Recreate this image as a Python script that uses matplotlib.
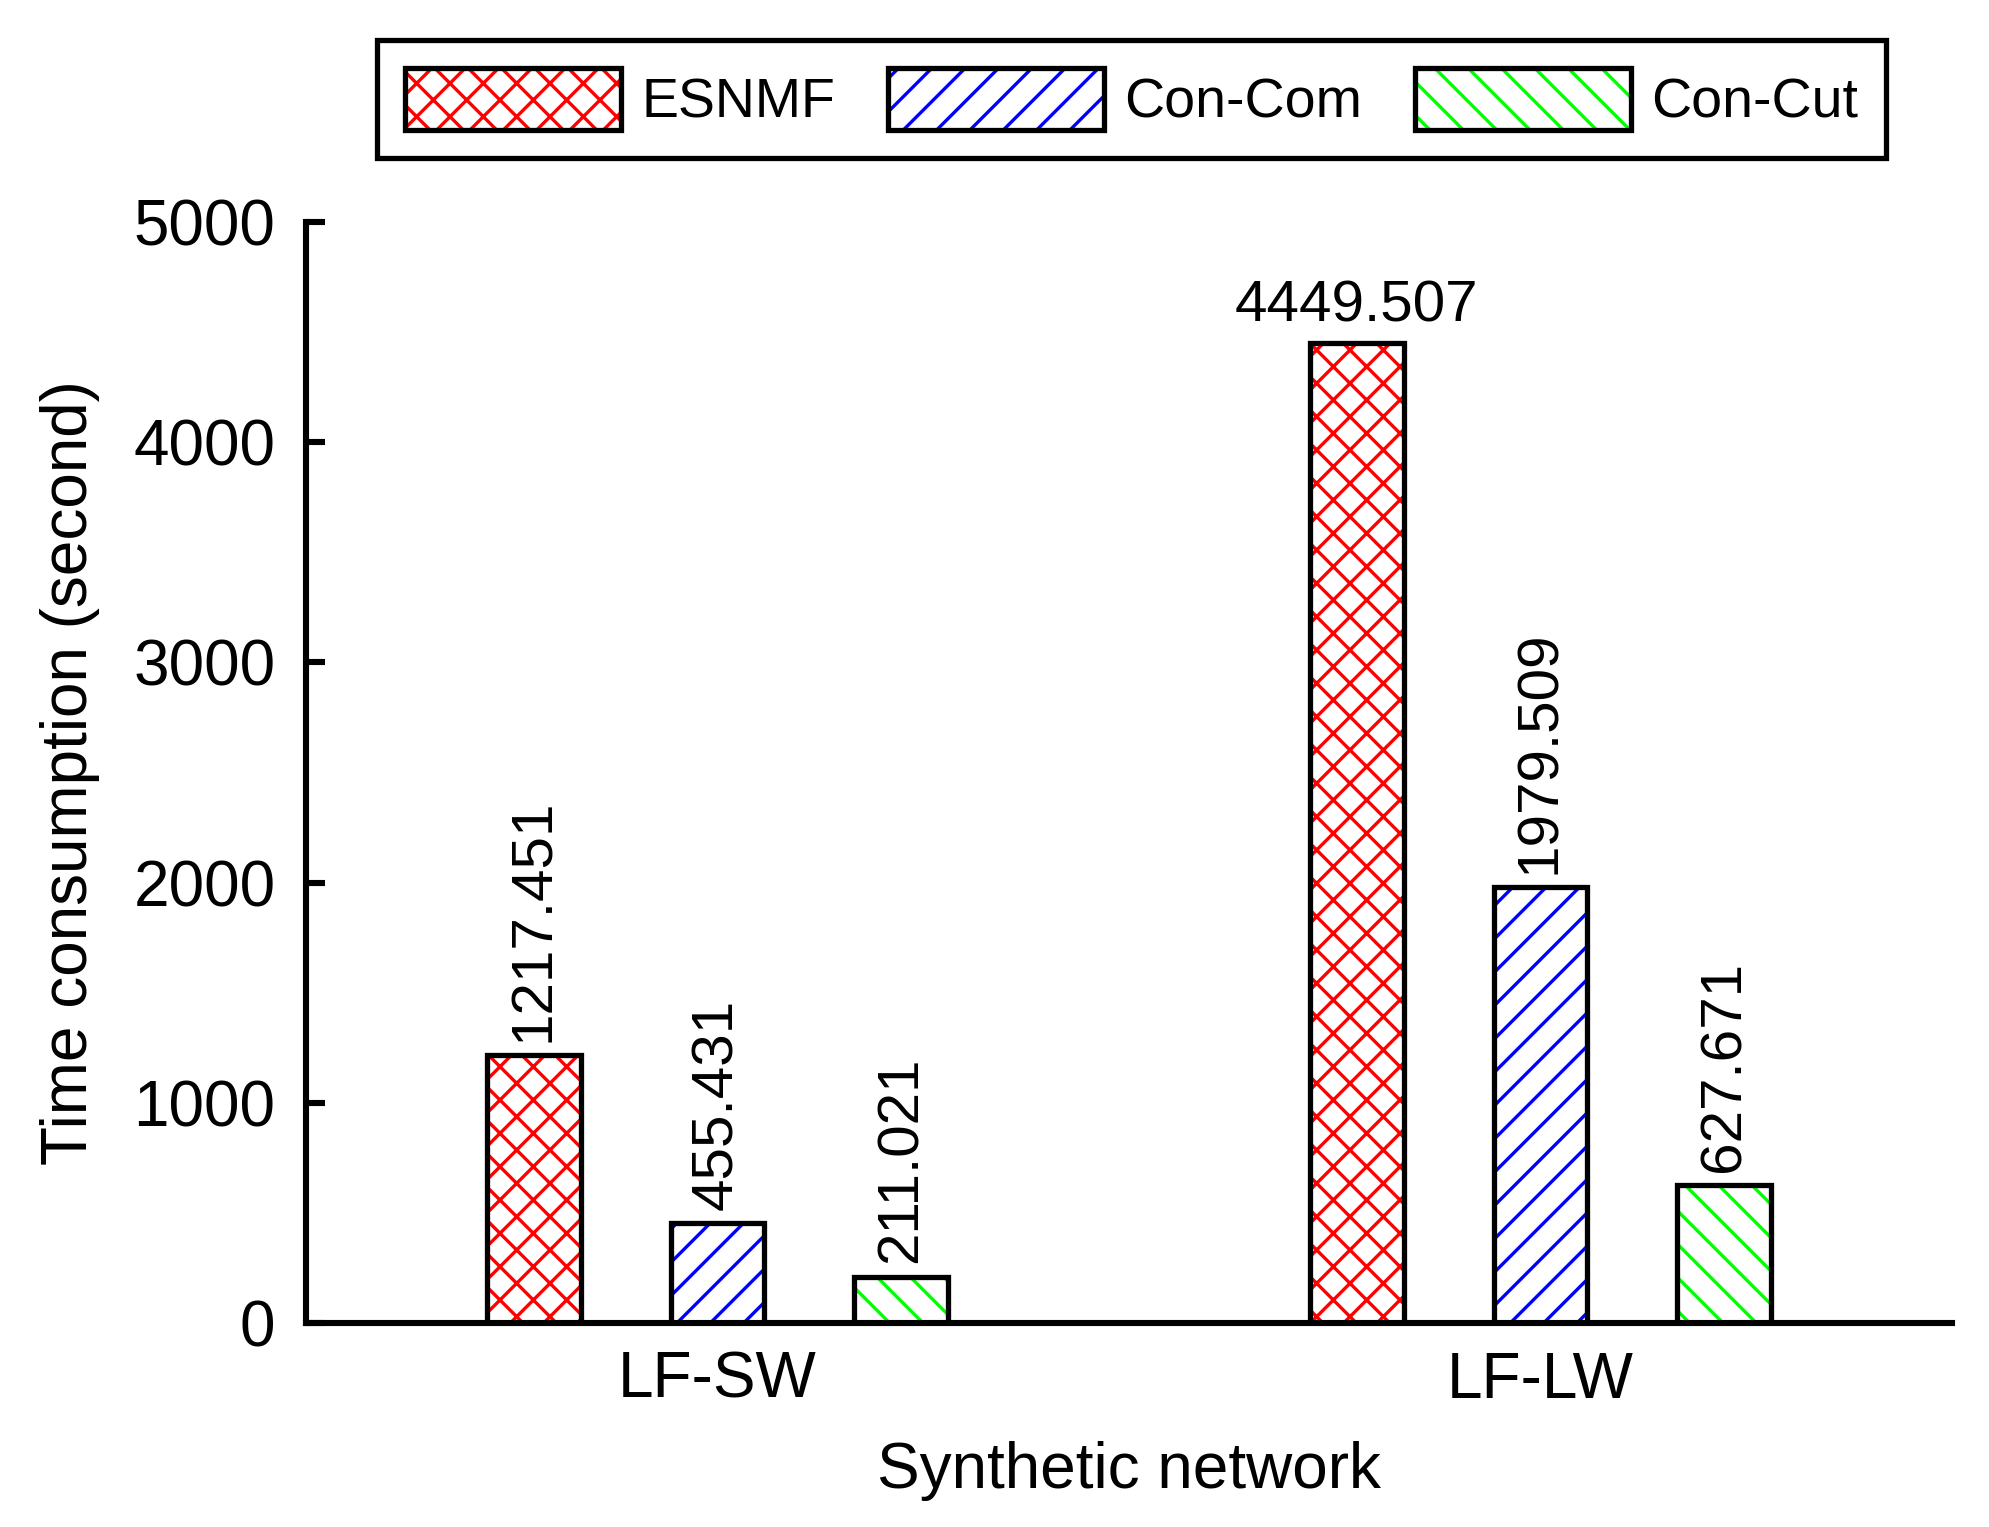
import matplotlib.pyplot as plt
import matplotlib.patches as mpatches
from matplotlib.legend_handler import HandlerTuple
import numpy as np

plt.rcParams["font.family"] = ["Liberation Sans", "DejaVu Sans"]
plt.rcParams["hatch.linewidth"] = 1.2

groups = ["LF-SW", "LF-LW"]
methods = ["ESNMF", "Con-Com", "Con-Cut"]
esnmf = [1217.451, 4449.507]
con_com = [455.431, 1979.509]
con_cut = [211.021, 627.671]
series = [esnmf, con_com, con_cut]
colors = ["#ff0000", "#0000ff", "#00ff00"]
hatches = ["xx", "//", "\\\\"]

fig = plt.figure(figsize=(9.945, 7.635), dpi=200)
ax = fig.add_axes([306 / 1989, 1 - 1323 / 1527, (1952 - 306) / 1989, (1323 - 222) / 1527])

x = np.arange(len(groups))
width = 0.114
offsets = [-0.2234, 0.0, 0.2234]

handles = []
for vals, col, h, off in zip(series, colors, hatches, offsets):
    ax.bar(x + off, vals, width, color="white", edgecolor=col, hatch=h, linewidth=0)
    ax.bar(x + off, vals, width, color="none", edgecolor="black", linewidth=1.9)
    handles.append((mpatches.Patch(facecolor="white", edgecolor=col, hatch=h, linewidth=0),
                    mpatches.Patch(facecolor="none", edgecolor="black", linewidth=1.9)))
    for xi, v in zip(x + off, vals):
        if v > 4000:
            ax.text(xi, v + 45, f"{v:.3f}", ha="center", va="bottom", fontsize=21)
        else:
            ax.text(xi, v + 60, f"{v:.3f}", ha="center", va="bottom", rotation=90, fontsize=21)

ax.set_xlim(-0.5, 1.5)
ax.set_ylim(0, 5000)
ax.set_xticks(x)
ax.set_xticklabels(groups)
ax.set_yticks([0, 1000, 2000, 3000, 4000, 5000])
ax.tick_params(axis="x", length=0, labelsize=23, pad=10)
ax.tick_params(axis="y", direction="in", length=7, width=2.2, labelsize=23, pad=11)
for s in ["top", "right"]:
    ax.spines[s].set_visible(False)
for s in ["left", "bottom"]:
    ax.spines[s].set_linewidth(2.2)

ax.set_xlabel("Synthetic network", fontsize=23, labelpad=11)
ax.set_ylabel("Time consumption (second)", fontsize=23, labelpad=12)

leg = fig.legend(handles, methods, loc="center", ncol=3, mode="expand",
                 bbox_to_anchor=(377 / 1989, 1 - 159 / 1527, 1509 / 1989, 120 / 1527),
                 borderaxespad=0, fontsize=20, frameon=True, fancybox=False,
                 edgecolor="black", framealpha=1,
                 handlelength=3.9, handleheight=1.35, handletextpad=0.36,
                 borderpad=0.5, handler_map={tuple: HandlerTuple(ndivide=1, pad=0)})
leg.get_frame().set_linewidth(1.9)

fig.savefig("out.png", dpi=200)
